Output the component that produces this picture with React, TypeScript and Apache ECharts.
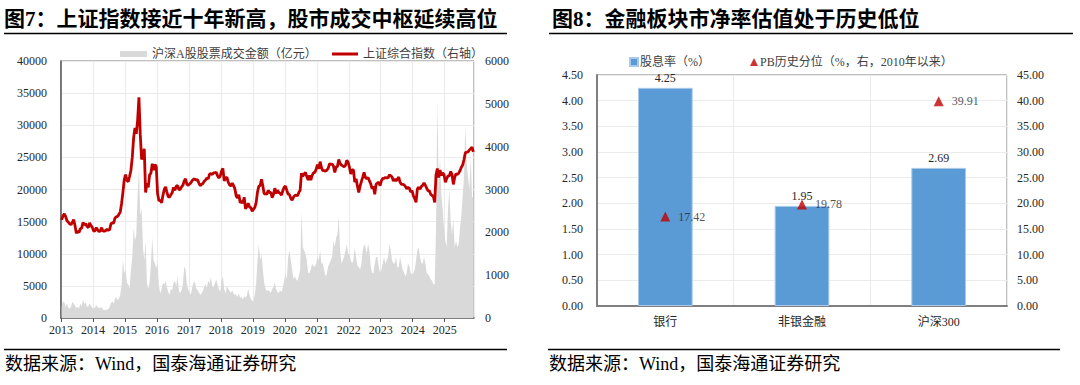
import React, { useEffect, useRef } from "react";
import * as echarts from "echarts";

// ---------- Figure 7 data (semi-monthly from 2013-01) ----------
const startYear = 2013;
const yearTicks = ["2013","2014","2015","2016","2017","2018","2019","2020","2021","2022","2023","2024","2025"];
const indexValues: number[] = [
  2290, 2385, 2430, 2365, 2270, 2237, 2200, 2178, 2230, 2300, 2160, 1980, 2030, 1995, 2085, 2098, 2230, 2175, 2200, 2140, 2110, 2220, 2160, 2116,
  2030, 2033, 2110, 2056, 2020, 2033, 2110, 2026, 2030, 2040, 2070, 2048, 2060, 2200, 2220, 2217, 2330, 2363, 2370, 2420, 2480, 2680, 2940, 3235,
  3350, 3210, 3180, 3310, 3450, 3750, 4200, 4440, 4300, 4610, 5150, 4280, 3700, 3800, 3950, 2930, 3150, 3050, 3340, 3380, 3600, 3450, 3580, 3540,
  2900, 2740, 2750, 2690, 2860, 3000, 3060, 2940, 2830, 2820, 2880, 2930, 3050, 2980, 3080, 3090, 3000, 3005, 3060, 3100, 3200, 3250, 3120, 3100,
  3130, 3160, 3210, 3240, 3240, 3220, 3230, 3150, 3090, 3120, 3140, 3190, 3220, 3270, 3250, 3360, 3370, 3350, 3390, 3390, 3400, 3320, 3270, 3310,
  3430, 3490, 3200, 3260, 3290, 3170, 3110, 3080, 3150, 3095, 3020, 2850, 2800, 2880, 2690, 2730, 2680, 2820, 2550, 2600, 2680, 2590, 2580, 2490,
  2540, 2580, 2700, 2940, 3080, 3090, 3240, 3080, 2900, 2900, 2890, 2980, 2930, 2930, 2810, 2890, 3030, 2910, 2980, 2930, 2910, 2870, 2970, 3050,
  3080, 2980, 2890, 2880, 2790, 2750, 2820, 2860, 2870, 2850, 2930, 2980, 3380, 3310, 3360, 3400, 3300, 3220, 3330, 3220, 3330, 3390, 3400, 3470,
  3580, 3480, 3650, 3510, 3440, 3440, 3430, 3450, 3490, 3600, 3590, 3590, 3550, 3400, 3520, 3540, 3700, 3610, 3570, 3550, 3530, 3560, 3680, 3640,
  3520, 3360, 3460, 3460, 3170, 3250, 3080, 2930, 3080, 3190, 3290, 3400, 3280, 3250, 3280, 3200, 3130, 3020, 3070, 2890, 3120, 3150, 3170, 3090,
  3200, 3260, 3260, 3280, 3270, 3270, 3340, 3320, 3290, 3200, 3240, 3200, 3240, 3290, 3170, 3120, 3120, 3110, 3070, 3020, 3050, 3030, 2940, 2975,
  2850, 2790, 2700, 3020, 3050, 3010, 3070, 3100, 3150, 3100, 3030, 2970, 2970, 2890, 2860, 2840, 2700, 3340, 3490, 3280, 3450, 3330, 3390, 3350,
  3170, 3250, 3320, 3320, 3420, 3350, 3120, 3280, 3370, 3350, 3380, 3440, 3520, 3570, 3700, 3860, 3870, 3880, 3920, 3950, 3990, 3880,
];
const turnoverValues: number[] = [
  1800, 2600, 2400, 1700, 2300, 1600, 1500, 1700, 2500, 2300, 1900, 1600, 1700, 1500, 2200, 1800, 2800, 2200, 2400, 1700, 1800, 2300, 1900, 1600,
  1500, 1600, 2000, 1700, 1500, 1600, 1700, 1300, 1200, 1300, 1300, 1400, 1700, 2300, 2600, 2200, 3000, 3200, 2800, 3000, 3600, 5200, 9000, 7000,
  7500, 5500, 5200, 4500, 7500, 9500, 14000, 12000, 13000, 19000, 23500, 16000, 17000, 11000, 9000, 12000, 5500, 4500, 5500, 8500, 12500, 9000, 8500, 7800,
  8500, 5000, 3800, 4500, 5500, 5200, 5800, 4800, 4000, 3600, 4500, 4300, 5500, 5800, 5000, 6500, 4200, 3900, 4300, 5200, 8000, 7500, 5200, 4400,
  4000, 3600, 4800, 5500, 5700, 4600, 4300, 4000, 3600, 3800, 4200, 4800, 5300, 4700, 5800, 5400, 6400, 5000, 4800, 5400, 6000, 5200, 4500, 4100,
  5800, 6500, 4500, 3800, 5000, 4500, 4200, 3900, 4300, 3800, 3600, 3600, 3300, 3800, 3100, 3300, 2900, 3400, 3200, 3500, 4600, 3600, 3000, 2600,
  2800, 3600, 5500, 9000, 11500, 9000, 10000, 7500, 5500, 4600, 4200, 4300, 4200, 3900, 4500, 4800, 5500, 4500, 4000, 3900, 4300, 4000, 4800, 5800,
  7000, 6000, 9500, 10500, 9000, 7500, 6000, 6500, 6000, 5800, 6500, 7500, 16500, 11000, 10500, 10000, 9000, 7000, 7000, 7500, 8500, 8000, 8000, 8500,
  9500, 9000, 10500, 8500, 8500, 7500, 6500, 6800, 8000, 8500, 9000, 9500, 12000, 11000, 12500, 13000, 15800, 10500, 8500, 9000, 9500, 10500, 11500, 10000,
  10000, 9000, 8500, 9000, 11000, 9500, 8000, 8000, 7500, 8500, 10500, 11500, 11000, 10000, 11500, 10500, 8000, 7000, 7000, 8500, 9500, 9500, 8000, 7000,
  7500, 8500, 9500, 8500, 9000, 9500, 11500, 10500, 9000, 8500, 8500, 9500, 7800, 8000, 9500, 8500, 7500, 7000, 6500, 7000, 8500, 8000, 7000, 6800,
  7000, 7500, 9000, 10500, 11000, 9500, 8500, 8500, 9500, 8500, 7000, 6800, 6500, 6000, 5800, 5300, 5200, 14000, 34000, 20000, 25000, 19000, 17000, 14000,
  12000, 11000, 17000, 20000, 15000, 13000, 15500, 11000, 12000, 11000, 11500, 14000, 16000, 19000, 22000, 30000, 24000, 22000, 20000, 25000, 19000, 18500,
];

// ---------- Figure 8 data ----------
const sectors = ["银行", "非银金融", "沪深300"];
const dividendYield = [4.25, 1.95, 2.69];
const pbPercentile = [17.42, 19.78, 39.91];

const SERIF = "'Liberation Serif', 'Noto Sans CJK SC', serif";
const LABEL = "#262626";

export default function App() {
  const ref = useRef<HTMLDivElement>(null);
  useEffect(() => {
    if (!ref.current) return;
    const chart = echarts.init(ref.current, undefined, { renderer: "svg" });
    const xOf = (i: number) => startYear + (i + 0.5) / 24;
    const turnoverData = turnoverValues.map((v, i) => [xOf(i), v]);
    const indexData = indexValues.map((v, i) => [xOf(i), v]);
    const xMax = startYear + yearTicks.length - 1 + 11 / 12;

    const text = (t: string, x: number, y: number, size: number, bold = false) => ({
      type: "text",
      x,
      y,
      style: {
        text: t,
        fill: "#000",
        font: `${bold ? "bold " : ""}${size}px ${SERIF}`,
        verticalAlign: "middle",
      },
    });
    const hline = (x1: number, x2: number, y: number, w: number) => ({
      type: "line",
      shape: { x1, y1: y, x2, y2: y },
      style: { stroke: "#000", lineWidth: w },
    });
    const plain = (v: number) => String(v);

    chart.setOption({
      animation: false,
      textStyle: { fontFamily: SERIF },
      graphic: [
        text("图7：上证指数接近十年新高，股市成交中枢延续高位", 4, 19, 21, true),
        hline(4, 507, 33.5, 1.5),
        text("数据来源：Wind，国泰海通证券研究", 5, 364, 18),
        hline(4, 507, 349.5, 1.5),
        text("图8：金融板块市净率估值处于历史低位", 552, 19, 21, true),
        hline(549, 1073, 33.5, 1.5),
        text("数据来源：Wind，国泰海通证券研究", 549, 364, 18),
        hline(548, 1060, 349.5, 1.5),
      ],
      legend: [
        {
          left: 115, top: 43, itemWidth: 27, itemHeight: 6,
          textStyle: { fontSize: 12, color: "#404040", fontFamily: SERIF },
          data: [{ name: "沪深A股股票成交金额（亿元）", icon: "rect", itemStyle: { color: "#D9D9D9" } }],
        },
        {
          left: 327, top: 43, itemWidth: 26, itemHeight: 3,
          textStyle: { fontSize: 12, color: "#404040", fontFamily: SERIF },
          data: [{ name: "上证综合指数（右轴）", icon: "rect", itemStyle: { color: "#C00000" } }],
        },
        {
          left: 624, top: 51, itemWidth: 8, itemHeight: 8, itemGap: 40,
          textStyle: { fontSize: 12, color: "#404040", fontFamily: SERIF, padding: [0, 0, 0, -3] },
          data: [
            { name: "股息率（%）", icon: "rect", itemStyle: { color: "#5B9BD5" } },
            { name: "PB历史分位（%，右，2010年以来）", icon: "triangle", itemStyle: { color: "#C00000" } },
          ],
        },
      ],
      grid: [
        { left: 61, top: 61, width: 413, height: 257, show: true, borderColor: "#7F7F7F", borderWidth: 1 },
        { left: 597, top: 75, width: 410, height: 231, show: true, borderColor: "#7F7F7F", borderWidth: 1 },
      ],
      xAxis: [
        {
          gridIndex: 0, type: "value", min: startYear, max: xMax, interval: 1,
          axisLine: { show: true, lineStyle: { color: "#595959", width: 1.5 } },
          axisTick: { show: true, length: 4, lineStyle: { color: "#595959" } },
          axisLabel: {
            margin: 6, fontSize: 12, color: LABEL, fontFamily: SERIF, showMaxLabel: false,
            formatter: (v: number) => (Math.abs(v - Math.round(v)) < 1e-6 ? yearTicks[Math.round(v) - startYear] ?? "" : ""),
          },
          splitLine: { show: true, lineStyle: { color: "#EBEBEB" } },
        },
        {
          gridIndex: 1, type: "category", data: sectors,
          axisLine: { show: true, lineStyle: { color: "#7F7F7F", width: 2 } },
          axisTick: { show: false },
          axisLabel: { margin: 10, fontSize: 12, color: LABEL, fontFamily: SERIF },
          splitLine: { show: true, lineStyle: { color: "#EBEBEB" } },
        },
      ],
      yAxis: [
        {
          gridIndex: 0, type: "value", min: 0, max: 40000, interval: 5000,
          axisLine: { show: true, lineStyle: { color: "#595959", width: 1.5 } },
          axisTick: { show: false },
          axisLabel: { margin: 14, fontSize: 12, color: LABEL, fontFamily: SERIF, formatter: plain },
          splitLine: { show: true, lineStyle: { color: "#EBEBEB" } },
        },
        {
          gridIndex: 0, type: "value", min: 0, max: 6000, interval: 1000, position: "right",
          axisLine: { show: false }, axisTick: { show: false },
          axisLabel: { margin: 11, fontSize: 12, color: LABEL, fontFamily: SERIF, formatter: plain },
          splitLine: { show: false },
        },
        {
          gridIndex: 1, type: "value", min: 0, max: 4.5, interval: 0.5,
          axisLine: { show: true, lineStyle: { color: "#7F7F7F", width: 2 } },
          axisTick: { show: false },
          axisLabel: { margin: 14, fontSize: 12, color: LABEL, fontFamily: SERIF, formatter: (v: number) => v.toFixed(2) },
          splitLine: { show: true, lineStyle: { color: "#EBEBEB" } },
        },
        {
          gridIndex: 1, type: "value", min: 0, max: 45, interval: 5, position: "right",
          axisLine: { show: false }, axisTick: { show: false },
          axisLabel: { margin: 10, fontSize: 12, color: LABEL, fontFamily: SERIF, formatter: (v: number) => v.toFixed(2) },
          splitLine: { show: false },
        },
      ],
      series: [
        {
          name: "沪深A股股票成交金额（亿元）", type: "line", xAxisIndex: 0, yAxisIndex: 0,
          data: turnoverData, showSymbol: false, symbol: "none",
          lineStyle: { width: 0 }, itemStyle: { color: "#D9D9D9" },
          areaStyle: { color: "#D9D9D9", opacity: 1 }, z: 1,
        },
        {
          name: "上证综合指数（右轴）", type: "line", xAxisIndex: 0, yAxisIndex: 1,
          data: indexData, showSymbol: false, symbol: "none",
          lineStyle: { width: 2.8, color: "#C00000" }, itemStyle: { color: "#C00000" }, z: 3,
        },
        {
          name: "股息率（%）", type: "bar", xAxisIndex: 1, yAxisIndex: 2,
          data: dividendYield, barWidth: "40%",
          itemStyle: { color: "#5B9BD5", borderColor: "#A9C8EA", borderWidth: 1 },
          label: { show: true, position: "top", distance: 4, fontSize: 12, color: LABEL, fontFamily: SERIF, formatter: (p: any) => p.value.toFixed(2) },
        },
        {
          name: "PB历史分位（%，右，2010年以来）", type: "scatter", xAxisIndex: 1, yAxisIndex: 3,
          data: pbPercentile, symbol: "triangle", symbolSize: 10,
          itemStyle: { color: "#C00000" },
          label: { show: true, position: "right", distance: 8, fontSize: 12, color: LABEL, fontFamily: SERIF, formatter: (p: any) => p.value.toFixed(2) },
          z: 5,
        },
      ],
    });
    return () => chart.dispose();
  }, []);
  return <div ref={ref} style={{ position: "fixed", left: 0, top: 0, width: 1080, height: 385, background: "#fff" }} />;
}
